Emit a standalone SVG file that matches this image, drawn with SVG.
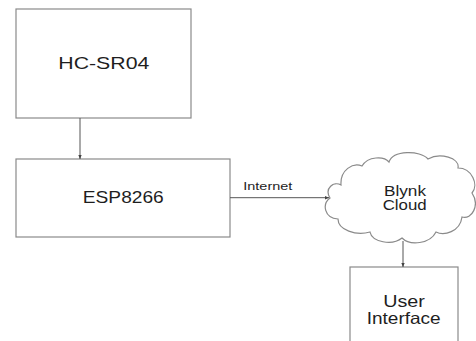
<svg xmlns="http://www.w3.org/2000/svg" width="476" height="341" viewBox="0 0 476 341">
<style>
.box{fill:#fff;stroke:#8a8a8a;stroke-width:1.2}
.lbl{font-family:"Liberation Sans",Arial,sans-serif;fill:#1e1e1e;text-anchor:middle}
.big{font-size:16.5px}
.mid{font-size:14.5px}
.sm{font-size:11px;text-anchor:start}
.con{stroke:#555;stroke-width:1;fill:none;marker-end:url(#ah)}
</style>
<defs>
<marker id="ah" markerWidth="5" markerHeight="5" refX="4" refY="2.5" orient="auto" markerUnits="userSpaceOnUse">
<path d="M0,0.8 L4,2.5 L0,4.2 Z" fill="#444"/>
</marker>
</defs>
<rect width="476" height="341" fill="#fff"/>
<g id="hcsr04">
<rect class="box" x="16" y="9" width="175" height="109"/>
<text class="lbl big" x="103.8" y="69" textLength="91" lengthAdjust="spacingAndGlyphs">HC-SR04</text>
</g>
<g id="esp8266">
<rect class="box" x="16" y="159" width="214" height="78"/>
<text class="lbl big" x="123.3" y="203.3" textLength="81" lengthAdjust="spacingAndGlyphs">ESP8266</text>
</g>
<g id="blynk">
<path class="box" d="M338 219 C324 218 322 204 330 198 C324 188 334 181 341 185 C340 170 353 162 362 166 C368 156 384 156 389 162 C393 150 420 150 428 159 C440 152 460 158 458 168 C472 168 479 185 472 193 C480 205 472 220 462 217 C460 232 444 236 436 232 C430 244 410 246 402 238 C392 246 372 242 370 232 C356 236 338 230 338 219 Z"/>
<text class="lbl mid" x="405" y="195.5" textLength="42" lengthAdjust="spacingAndGlyphs">Blynk</text>
<text class="lbl mid" x="404.7" y="210" textLength="44" lengthAdjust="spacingAndGlyphs">Cloud</text>
</g>
<g id="ui">
<rect class="box" x="350" y="267" width="108" height="90"/>
<text class="lbl big" x="404" y="306.7" textLength="41.7" lengthAdjust="spacingAndGlyphs">User</text>
<text class="lbl big" x="403.7" y="324.3" textLength="74" lengthAdjust="spacingAndGlyphs">Interface</text>
</g>
<g id="connectors">
<line class="con" x1="80" y1="118" x2="80" y2="159"/>
<line class="con" x1="230" y1="197.7" x2="329" y2="197.7"/>
<text class="lbl sm" x="243.3" y="190" textLength="49" lengthAdjust="spacingAndGlyphs">Internet</text>
<line class="con" x1="403" y1="241" x2="403" y2="267"/>
</g>
</svg>
